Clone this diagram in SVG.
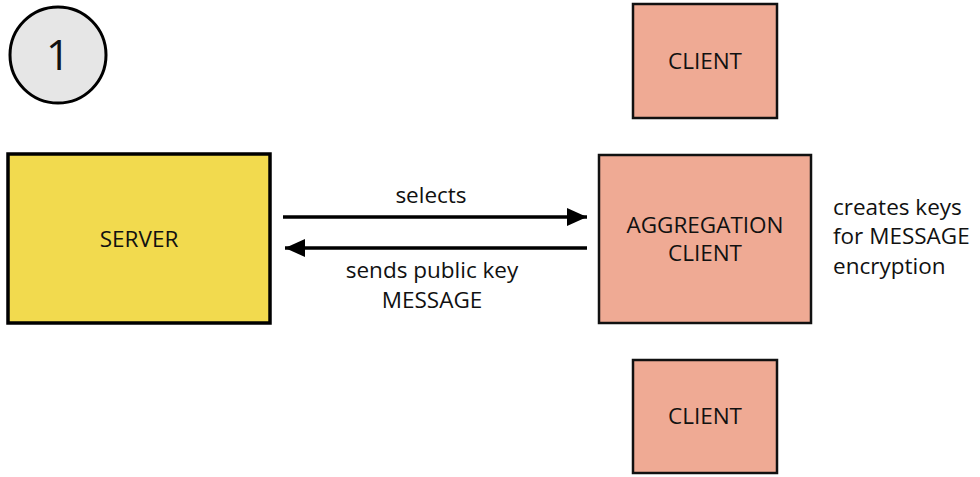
<svg xmlns="http://www.w3.org/2000/svg" width="980" height="477" viewBox="0 0 980 477">
<style>
text{font-family:"Open Sans","Noto Sans","DejaVu Sans",sans-serif;font-size:22.5px;fill:#111}
.c{text-anchor:middle}
.client{fill:#efaa94;stroke:#111;stroke-width:2.5}
.conn{stroke:#000;stroke-width:3.5;fill:none}
</style>
<defs>
<marker id="ah" viewBox="0 0 20 18" refX="20" refY="9" markerWidth="20" markerHeight="18" markerUnits="userSpaceOnUse" orient="auto">
<path d="M0,0 L20,9 L0,18 Z" fill="#000"/>
</marker>
</defs>
<rect width="980" height="477" fill="#fff"/>
<g id="step">
<circle cx="58" cy="55" r="48" fill="#e6e6e6" stroke="#000" stroke-width="3"/>
<text class="c" x="58" y="70" style="font-size:42px">1</text>
</g>
<g id="server">
<rect x="8" y="154" width="262" height="169" fill="#f2da4e" stroke="#000" stroke-width="3.5"/>
<text class="c" x="139" y="247">SERVER</text>
</g>
<g id="client-top">
<rect class="client" x="633" y="4" width="144" height="114"/>
<text class="c" x="705" y="69">CLIENT</text>
</g>
<g id="aggregation">
<rect class="client" x="599" y="155" width="212" height="168"/>
<text class="c" x="705" y="233">AGGREGATION</text>
<text class="c" x="705" y="261">CLIENT</text>
</g>
<g id="client-bottom">
<rect class="client" x="633" y="360" width="144" height="113"/>
<text class="c" x="705" y="424">CLIENT</text>
</g>
<g id="note">
<text x="833" y="215">creates keys</text>
<text x="833" y="244">for MESSAGE</text>
<text x="833" y="274">encryption</text>
</g>
<g id="connectors">
<line class="conn" x1="283" y1="217" x2="587" y2="217" marker-end="url(#ah)"/>
<text class="c" x="431" y="203">selects</text>
<line class="conn" x1="587" y1="248" x2="285" y2="248" marker-end="url(#ah)"/>
<text class="c" x="432" y="278">sends public key</text>
<text class="c" x="432" y="308">MESSAGE</text>
</g>
</svg>
